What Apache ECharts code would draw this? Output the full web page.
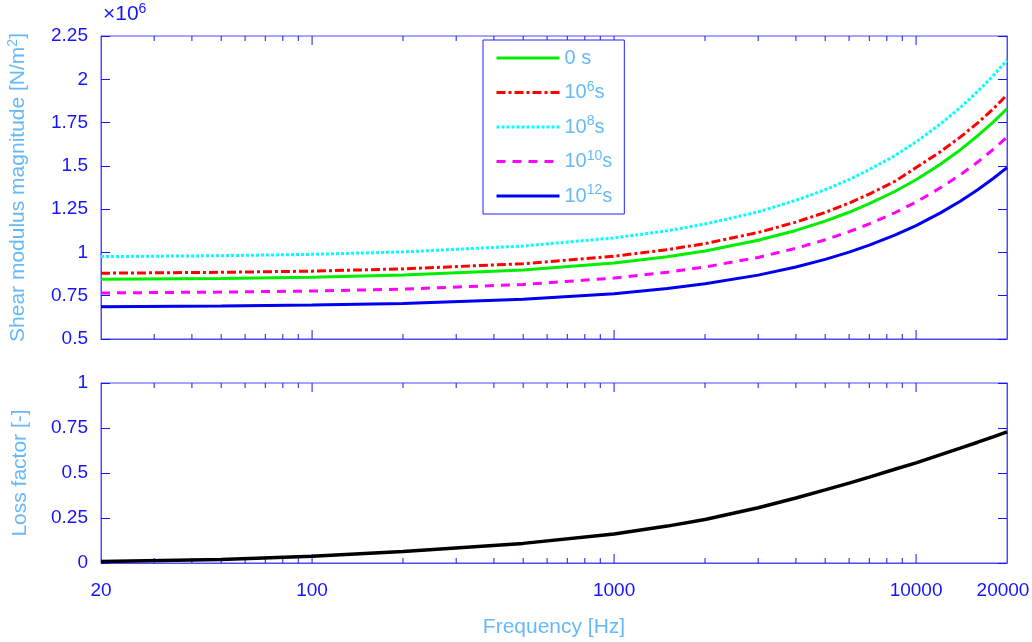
<!DOCTYPE html>
<html>
<head>
<meta charset="utf-8">
<script src="https://cdn.jsdelivr.net/npm/echarts@6/dist/echarts.min.js"></script>
<style>
  html, body { margin: 0; padding: 0; background: #fff; }
  #main { width: 1032px; height: 642px; }
</style>
</head>
<body>
<div id="main"></div>
<script>
// frequency grid [Hz]
const freq = [20, 50, 100, 200, 500, 1000, 1500, 2000, 3000, 4000, 5000, 6000, 7000, 8500,
              10000, 12000, 14000, 16000, 18000, 20000];
// shear modulus magnitude, x10^6 N/m^2
const g0s   = [0.845, 0.850, 0.857, 0.869, 0.898, 0.939, 0.975, 1.008, 1.070, 1.127, 1.181, 1.232, 1.282, 1.352,
               1.420, 1.508, 1.592, 1.674, 1.753, 1.830];
const g1e6  = [0.880, 0.885, 0.892, 0.905, 0.935, 0.978, 1.016, 1.051, 1.115, 1.175, 1.231, 1.285, 1.337, 1.410,
               1.490, 1.580, 1.666, 1.748, 1.829, 1.910];
const g1e8  = [0.976, 0.981, 0.989, 1.003, 1.037, 1.084, 1.125, 1.164, 1.234, 1.301, 1.362, 1.421, 1.478, 1.559,
               1.638, 1.740, 1.836, 1.930, 2.021, 2.110];
const g1e10 = [0.766, 0.771, 0.777, 0.788, 0.815, 0.852, 0.885, 0.916, 0.971, 1.024, 1.073, 1.120, 1.165, 1.229,
               1.291, 1.372, 1.448, 1.522, 1.595, 1.665];
const g1e12 = [0.686, 0.690, 0.696, 0.705, 0.729, 0.762, 0.792, 0.819, 0.869, 0.916, 0.960, 1.002, 1.042, 1.100,
               1.155, 1.227, 1.296, 1.362, 1.427, 1.490];
// loss factor [-]
const lossFactor = [0.008, 0.020, 0.037, 0.064, 0.109, 0.161, 0.205, 0.242, 0.307, 0.361, 0.406, 0.444, 0.477, 0.521,
                    0.556, 0.601, 0.638, 0.671, 0.701, 0.729];

const seriesNames = ['0 s', '10^6s', '10^8s', '10^10s', '10^12s'];
const xTickLabels = [20, 100, 1000, 10000, 20000];
const majorTicks = [100, 1000, 10000];
const minorTicks = [30, 40, 50, 60, 70, 80, 90, 200, 300, 400, 500, 600, 700, 800, 900,
                    2000, 3000, 4000, 5000, 6000, 7000, 8000, 9000];

const blue = '#1414ff';
const boxBlue = '#4b4bff';
const titleBlue = '#66b9f9';
const font = 'Liberation Sans, Arial, Helvetica, sans-serif';

const chart = echarts.init(document.getElementById('main'));

function pairs(ys) {
  return freq.map((f, i) => [f, ys[i]]);
}

// MATLAB-style inward ticks on top and bottom edges of each box
function tickItem(params, api) {
  const cs = params.coordSys;
  const x = api.coord([api.value(0), api.value(1)])[0];
  const len = api.value(2) ? 9 : 5;
  const style = { stroke: blue, lineWidth: 1 };
  return {
    type: 'group',
    children: [
      { type: 'line', shape: { x1: x, y1: cs.y, x2: x, y2: cs.y + len }, style: style },
      { type: 'line', shape: { x1: x, y1: cs.y + cs.height, x2: x, y2: cs.y + cs.height - len }, style: style }
    ]
  };
}
function tickData(yMin) {
  return majorTicks.map(v => [v, yMin, 1]).concat(minorTicks.map(v => [v, yMin, 0]));
}

const lineDefs = [
  { data: g0s,   color: '#00ee00', type: 'solid' },
  { data: g1e6,  color: '#ff0000', type: [9, 3, 3, 3] },
  { data: g1e8,  color: '#00ffff', type: [3, 2] },
  { data: g1e10, color: '#ff00ff', type: [9, 7] },
  { data: g1e12, color: '#0000ee', type: 'solid' }
];

const xAxisBase = {
  type: 'log',
  logBase: 10,
  min: 20,
  max: 20000,
  axisLine: { lineStyle: { color: boxBlue, width: 1 } },
  axisTick: { show: false },
  splitLine: { show: false },
  minorTick: { show: false }
};
function yLeft(grid, min, max, name) {
  return {
    type: 'value', gridIndex: grid, min: min, max: max, interval: 0.25,
    position: 'left',
    name: name, nameLocation: 'middle', nameGap: 70,
    nameTextStyle: {
      color: titleBlue, fontSize: 21, fontFamily: font,
      rich: { sup: { color: titleBlue, fontSize: 14, fontFamily: font, padding: [0, 0, 11, 0] } }
    },
    axisLine: { show: true, lineStyle: { color: boxBlue, width: 1 } },
    axisTick: { show: true, inside: true, length: 9, lineStyle: { color: blue } },
    axisLabel: { color: blue, fontSize: 19, fontFamily: font, margin: 13 },
    splitLine: { show: false }
  };
}
function yRight(grid, min, max) {
  return {
    type: 'value', gridIndex: grid, min: min, max: max, interval: 0.25,
    position: 'right',
    axisLine: { show: true, lineStyle: { color: boxBlue, width: 1 } },
    axisTick: { show: true, inside: true, length: 9, lineStyle: { color: blue } },
    axisLabel: { show: false },
    splitLine: { show: false }
  };
}

const series = lineDefs.map((d, i) => ({
  name: seriesNames[i],
  type: 'line',
  xAxisIndex: 0,
  yAxisIndex: 0,
  data: pairs(d.data),
  showSymbol: false,
  symbol: 'none',
  color: d.color,
  lineStyle: { color: d.color, width: 3, type: d.type, cap: 'butt' },
  z: 3
}));

series.push({
  name: 'loss',
  type: 'line',
  xAxisIndex: 1,
  yAxisIndex: 2,
  data: pairs(lossFactor),
  symbol: 'none',
  lineStyle: { color: '#000000', width: 3.5 },
  z: 3
});
series.push({
  type: 'custom', xAxisIndex: 0, yAxisIndex: 0, silent: true,
  renderItem: tickItem, data: tickData(0.5), clip: false, z: 2
});
series.push({
  type: 'custom', xAxisIndex: 1, yAxisIndex: 2, silent: true,
  renderItem: tickItem, data: tickData(0), clip: false, z: 2
});

const gridBase = {
  left: 101, width: 906, show: true, borderColor: boxBlue, borderWidth: 1,
  backgroundColor: 'transparent', containLabel: false, outerBoundsMode: 'none'
};

chart.setOption({
  animation: false,
  backgroundColor: '#ffffff',
  textStyle: { fontFamily: font },
  grid: [
    Object.assign({}, gridBase, { top: 36, height: 303 }),
    Object.assign({}, gridBase, { top: 383, height: 180 })
  ],
  xAxis: [
    Object.assign({}, xAxisBase, { gridIndex: 0, axisLabel: { show: false } }),
    Object.assign({}, xAxisBase, {
      gridIndex: 1,
      name: 'Frequency [Hz]', nameLocation: 'middle', nameGap: 54,
      nameTextStyle: { color: titleBlue, fontSize: 21, fontFamily: font },
      axisLabel: {
        color: blue, fontSize: 19, fontFamily: font, margin: 18,
        customValues: xTickLabels,
        showMinLabel: true, showMaxLabel: true,
        // keep the last label inside the canvas, as in the original
        formatter: v => {
          const s = String(Math.round(v));
          return Math.round(v) === 20000 ? '{r|' + s + '}' : s;
        },
        rich: { r: { color: blue, fontSize: 19, fontFamily: font, padding: [0, 8, 0, 0] } }
      }
    })
  ],
  yAxis: [
    yLeft(0, 0.5, 2.25, 'Shear modulus magnitude [N/m{sup|2}]'),
    yRight(0, 0.5, 2.25),
    yLeft(1, 0, 1, 'Loss factor [-]'),
    yRight(1, 0, 1)
  ],
  legend: {
    data: seriesNames,
    orient: 'vertical',
    left: 483,
    top: 40,
    padding: [8, 12, 8, 12],
    itemWidth: 63,
    itemHeight: 2,
    itemGap: 12,
    backgroundColor: '#ffffff',
    borderColor: '#2020ff',
    borderWidth: 1,
    borderRadius: 0,
    itemStyle: { color: 'transparent', borderWidth: 0, opacity: 0 },
    lineStyle: { width: 3 },
    formatter: name => name.replace(/\^(\d+)/, '{sup|$1}'),
    textStyle: {
      color: titleBlue, fontSize: 20, fontFamily: font, lineHeight: 20,
      rich: { sup: { color: titleBlue, fontSize: 14, fontFamily: font, padding: [0, 0, 11, 0] } }
    }
  },
  graphic: [{
    type: 'text',
    left: 103,
    top: 2,
    style: {
      text: '\u00d710{sup|6}',
      fill: blue,
      font: '21px ' + font,
      rich: { sup: { fill: blue, fontSize: 14, fontFamily: font, padding: [0, 0, 11, 0] } }
    }
  }],
  series: series
});
</script>
</body>
</html>
